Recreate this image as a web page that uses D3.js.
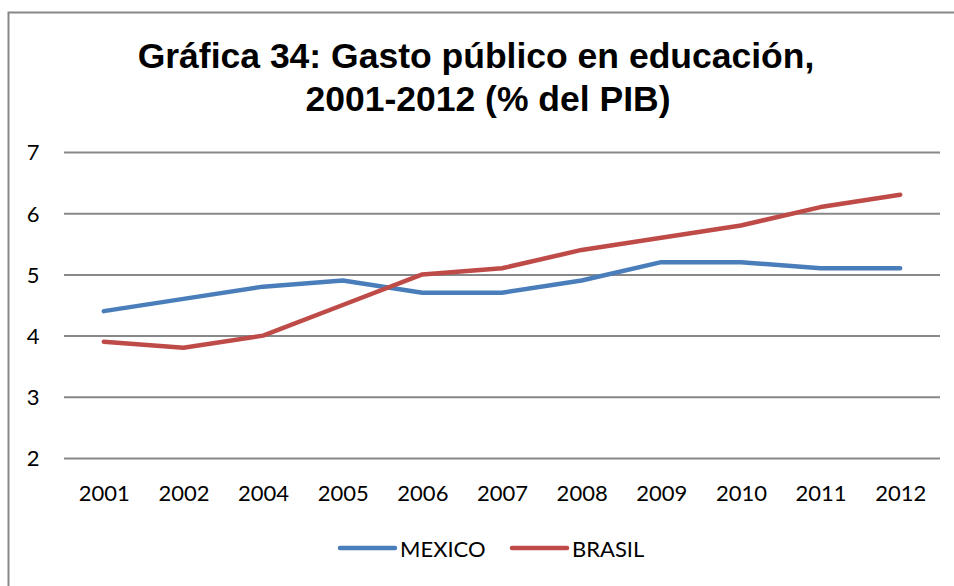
<!DOCTYPE html>
<html>
<head>
<meta charset="utf-8">
<script src="https://cdn.jsdelivr.net/npm/d3@7"></script>
<style>
  body { margin: 0; background: #fff; }
  svg { display: block; }
</style>
</head>
<body>
<div id="chart"></div>
<script>
// data
var years = ["2001", "2002", "2004", "2005", "2006", "2007", "2008", "2009", "2010", "2011", "2012"];
var mexico = [4.4, 4.6, 4.8, 4.9, 4.7, 4.7, 4.9, 5.2, 5.2, 5.1, 5.1];
var brasil = [3.9, 3.8, 4.0, 4.5, 5.0, 5.1, 5.4, 5.6, 5.8, 6.1, 6.3];
var yTicks = [2, 3, 4, 5, 6, 7];

var W = 954, H = 586;
var margin = {top: 152, right: 14, bottom: 128, left: 64},
    width = W - margin.left - margin.right,
    height = H - margin.top - margin.bottom;

var svg = d3.select("#chart").append("svg")
    .attr("width", W)
    .attr("height", H);

// chart area frame
svg.append("rect")
    .attr("x", 8.5).attr("y", 12.5)
    .attr("width", W + 10).attr("height", H + 10)
    .attr("fill", "#fff")
    .attr("stroke", "#888")
    .attr("stroke-width", 2);

// title
var title = svg.append("text")
    .attr("text-anchor", "middle")
    .attr("font-family", "Liberation Sans, Arial, sans-serif")
    .attr("font-weight", 700)
    .attr("font-size", "35.5px")
    .attr("fill", "#000");
title.append("tspan").attr("x", 476).attr("y", 68).text("Gráfica 34: Gasto público en educación,");
title.append("tspan").attr("x", 488).attr("y", 111).text("2001-2012 (% del PIB)");

var g = svg.append("g")
    .attr("transform", "translate(" + margin.left + "," + margin.top + ")");

var x = d3.scalePoint()
    .domain(years)
    .range([0, width])
    .padding(0.5);

var y = d3.scaleLinear()
    .domain([2, 7])
    .range([height, 0]);

// gridlines + y labels
var yAxis = g.append("g")
    .call(d3.axisLeft(y).tickValues(yTicks).tickSize(-width).tickFormat(d3.format("d")));
yAxis.select(".domain").remove();
yAxis.selectAll(".tick line")
    .attr("stroke", "#888")
    .attr("stroke-width", 2);
yAxis.selectAll(".tick text")
    .attr("x", -31)
    .attr("dy", "0.36em")
    .attr("text-anchor", "middle")
    .attr("font-family", "Lato, Carlito, Calibri, sans-serif")
    .attr("font-size", "22px")
    .attr("fill", "#000");

// x labels
var xAxis = g.append("g")
    .attr("transform", "translate(0," + height + ")")
    .call(d3.axisBottom(x).tickSize(0).tickPadding(0));
xAxis.select(".domain").remove();
xAxis.selectAll(".tick text")
    .attr("y", 43)
    .attr("dy", null)
    .attr("font-family", "Lato, Carlito, Calibri, sans-serif")
    .attr("font-size", "22px")
    .attr("fill", "#000");

var line = d3.line()
    .x(function(d, i) { return x(years[i]); })
    .y(function(d) { return y(d); });

var series = [
  {name: "MEXICO", values: mexico, color: "#4a7ebb"},
  {name: "BRASIL", values: brasil, color: "#be4b48"}
];

g.selectAll(".series")
    .data(series)
  .enter().append("path")
    .attr("class", "series")
    .attr("d", function(d) { return line(d.values); })
    .attr("fill", "none")
    .attr("stroke", function(d) { return d.color; })
    .attr("stroke-width", 4.5)
    .attr("stroke-linecap", "round")
    .attr("stroke-linejoin", "round");

// legend
var legend = svg.append("g");
var lx = [340, 512];
series.forEach(function(s, i) {
  legend.append("line")
      .attr("x1", lx[i]).attr("x2", lx[i] + 55)
      .attr("y1", 548).attr("y2", 548)
      .attr("stroke", s.color)
      .attr("stroke-width", 4.5)
      .attr("stroke-linecap", "round");
  legend.append("text")
      .attr("x", lx[i] + 60).attr("y", 557)
      .attr("font-family", "Lato, Carlito, Calibri, sans-serif")
      .attr("font-size", "22px")
      .attr("fill", "#000")
      .text(s.name);
});
</script>
</body>
</html>
